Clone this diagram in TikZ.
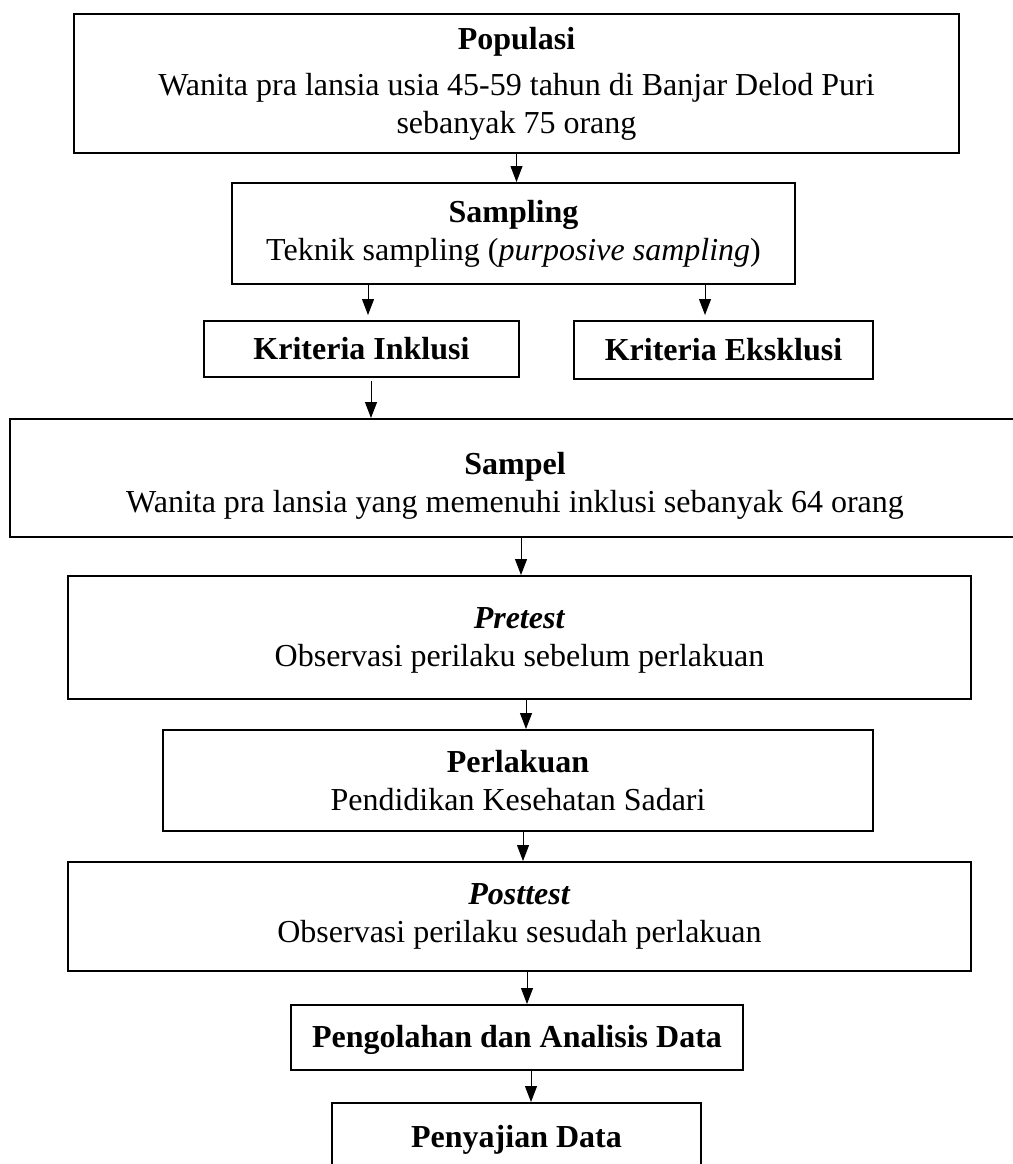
\documentclass[tikz,border=0pt]{standalone}
\usepackage{fontspec}
\setmainfont{Liberation Serif}
\usetikzlibrary{arrows.meta,calc}
\begin{document}
\begin{tikzpicture}[x=1pt,y=-1pt,
  box/.style={draw, line width=2pt, inner sep=0pt, align=center,
    font=\fontsize{32}{38}\selectfont},
  txt/.style={inner sep=0pt, align=center, font=\fontsize{32}{38}\selectfont},
  arr/.style={line width=1pt, -{Triangle[length=16pt,width=12pt]}}]
\useasboundingbox (0,0) rectangle (1012,1164);
\fill[white] (0,0) rectangle (1012,1164);

\node[box, minimum width=885pt, minimum height=139pt] (pop) at (516.5,83.5)
  {\textbf{Populasi}\\[8pt]Wanita pra lansia usia 45-59 tahun di Banjar Delod Puri\\sebanyak 75 orang};
\node[box, minimum width=563pt, minimum height=101pt] (samp) at (513.5,233.5)
  {\textbf{Sampling}\\Teknik sampling (\textit{purposive sampling})};
\node[box, minimum width=315pt, minimum height=56pt] (inkl) at (361.5,349)
  {\textbf{Kriteria Inklusi}};
\node[box, minimum width=299pt, minimum height=58pt] (eks) at (723.5,350)
  {\textbf{Kriteria Eksklusi}};
\node[box, minimum width=1010pt, minimum height=118pt] (sampel) at (515,478) {};
\node[txt] (sampeltxt) at (515,486)
  {\textbf{Sampel}\\Wanita pra lansia yang memenuhi inklusi sebanyak 64 orang};
\node[box, minimum width=903pt, minimum height=123pt] (pre) at (519.5,637.5) {};
\node[txt] (pretxt) at (519.5,640)
  {\textbf{\textit{Pretest}}\\Observasi perilaku sebelum perlakuan};
\node[box, minimum width=710pt, minimum height=101pt] (perl) at (518,780.5)
  {\textbf{Perlakuan}\\Pendidikan Kesehatan Sadari};
\node[box, minimum width=903pt, minimum height=109pt] (post) at (519.5,916.5)
  {\textbf{\textit{Posttest}}\\Observasi perilaku sesudah perlakuan};
\node[box, minimum width=452pt, minimum height=65pt] (pengo) at (517,1037.5) {};
\node[txt] (pengotxt) at (517,1040)
  {\textbf{Pengolahan dan Analisis Data}};
\node[box, minimum width=369pt, minimum height=74pt] (peny) at (516.5,1140)
  {\textbf{Penyajian Data}};

\draw[arr] (pop.south) -- (pop.south |- samp.north);
\draw[arr] ($(samp.south -| inkl.north)+(6.5,0)$) -- ($(inkl.north)+(6.5,-5)$);
\draw[arr] ($(samp.south -| eks.north)+(-18.5,0)$) -- ($(eks.north)+(-18.5,-5)$);
\draw[arr] ($(inkl.south)+(9.5,3)$) -- ($(inkl.south |- sampel.north)+(9.5,0)$);
\draw[arr] ($(sampel.south)+(6,0)$) -- ($(sampel.south |- pre.north)+(6,0)$);
\draw[arr] ($(pre.south)+(6.5,0)$) -- ($(pre.south |- perl.north)+(6.5,0)$);
\draw[arr] ($(perl.south)+(5,0)$) -- ($(perl.south |- post.north)+(5,0)$);
\draw[arr] ($(post.south)+(7.5,0)$) -- ($(post.south |- pengo.north)+(7.5,0)$);
\draw[arr] ($(pengo.south)+(14,0)$) -- ($(pengo.south |- peny.north)+(14,0)$);
\end{tikzpicture}
\end{document}
